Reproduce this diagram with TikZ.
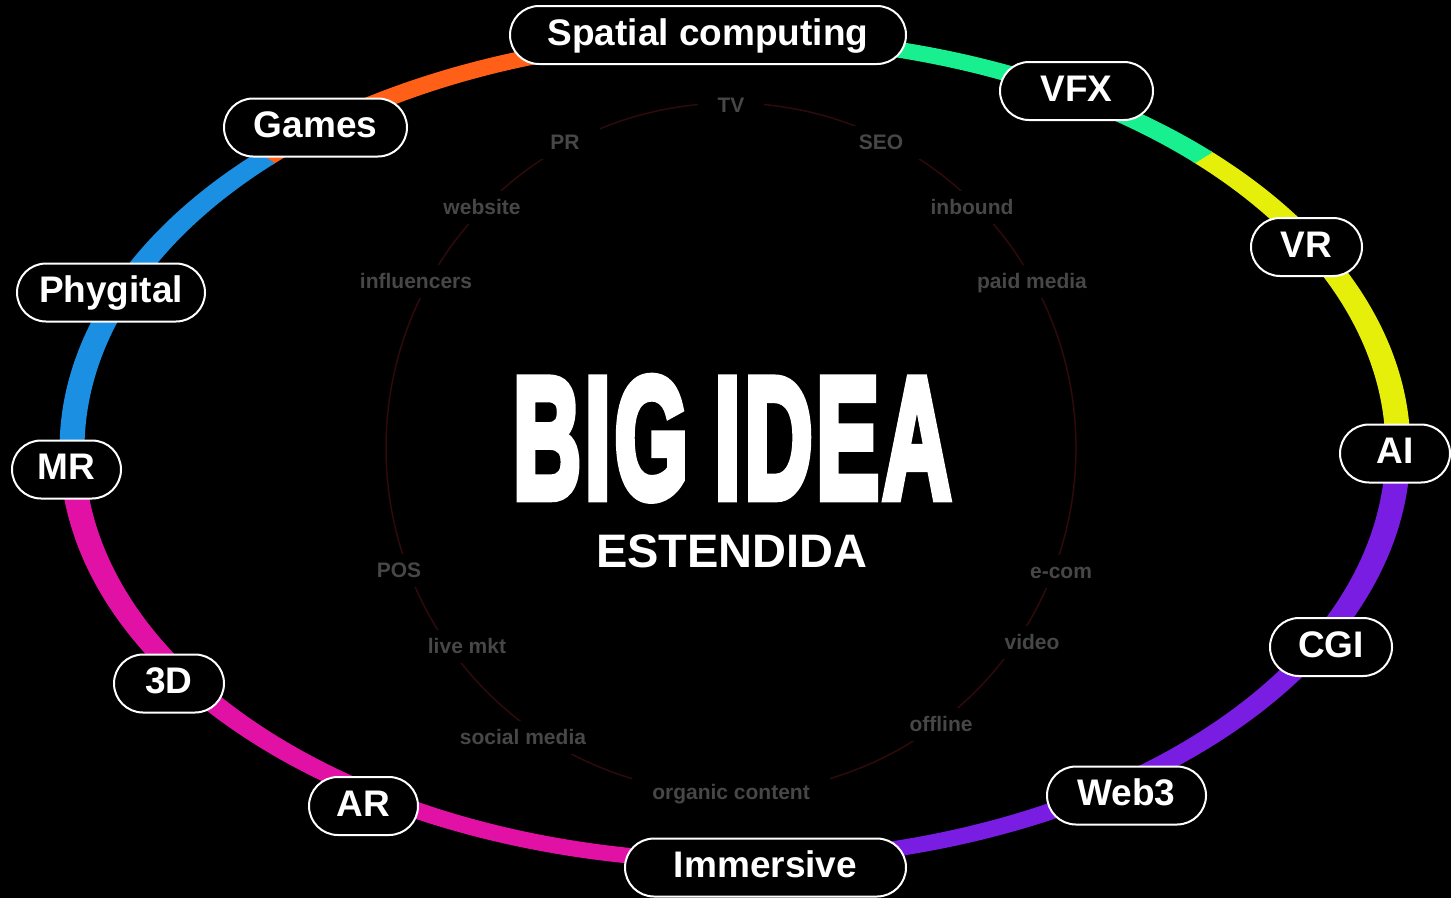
\documentclass[tikz,border=0pt]{standalone}
\usepackage{fontspec}
\setmainfont{Liberation Sans}
\newfontfamily\bigfont{Liberation Sans}[BoldFeatures={FakeBold=5.5}]
\usetikzlibrary{shapes.misc}
\definecolor{cyellow}{HTML}{E6EF0A}
\definecolor{cgreen}{HTML}{18EF8E}
\definecolor{corange}{HTML}{FF5F17}
\definecolor{cblue}{HTML}{1B8FE2}
\definecolor{cmagenta}{HTML}{E211A6}
\definecolor{cpurple}{HTML}{7A1DE3}
\definecolor{cinner}{HTML}{300A0A}
\definecolor{clabel}{HTML}{474747}
\newcommand\bk{\kern6.5pt}
\tikzset{
  seg/.style={line width=15.5pt, line cap=butt},
  pill/.style={rounded rectangle, draw=white, line width=2pt, fill=black, text=white,
    font=\bfseries\fontsize{37}{44}\selectfont, minimum height=58pt, inner xsep=0pt,
    text height=27pt, text depth=7pt},
  lbl/.style={fill=black, text=clabel, font=\bfseries\fontsize{21}{25}\selectfont,
    inner xsep=20pt, inner ysep=9pt, text height=15pt, text depth=0pt},
}
\begin{document}
\begin{tikzpicture}[x=1pt,y=-1pt]
\fill[black] (0,0) rectangle (1451,898);
\useasboundingbox (0,0) rectangle (1451,898);
% outer coloured ellipse: a circle of radius 412 stretched sideways (stroke too)
\begin{scope}[transform canvas={xscale=1.60922}]
\coordinate (oc) at (456.74,449);
\foreach \a/\b/\c in {0/45.3/cyellow, 45/90.3/cgreen, 90/135.3/corange, 135/180.3/cblue, 180/270.3/cmagenta, 270/360.3/cpurple}
  \draw[seg, \c] (oc) ++(-\a:412) arc[start angle=-\a, end angle=-\b, radius=412];
\end{scope}
% inner circle
\coordinate (ic) at (731,448);
\draw[cinner, line width=1.5pt] (ic) circle[radius=345];
% inner labels
\node[lbl] (tv) at (731,105) {TV};
\node[lbl] (pr) at (565,142) {PR};
\node[lbl] (seo) at (881,142) {SEO};
\node[lbl] (website) at (482,207) {website};
\node[lbl] (inbound) at (972,207) {inbound};
\node[lbl] (influencers) at (416,281) {influencers};
\node[lbl] (paid) at (1032,281) {paid media};
\node[lbl] (pos) at (399,570) {POS};
\node[lbl] (ecom) at (1061,571) {e-com};
\node[lbl] (live) at (467,646) {live mkt};
\node[lbl] (video) at (1032,642) {video};
\node[lbl] (social) at (523,737) {social media};
\node[lbl] (offline) at (941,724) {offline};
\node[lbl] (organic) at (731,792) {organic content};
% centre title
\node[text=white, inner sep=0pt, text height=122pt, text depth=0pt] (big) at (732,436.5)
  {\scalebox{0.55}[1]{\bigfont\bfseries\fontsize{172}{172}\selectfont B\bk I\bk G I\bk D\bk E\bk A}};
\node[text=white, inner sep=0pt, text height=33pt, text depth=0pt,
  font=\bfseries\fontsize{47}{52}\selectfont] (est) at (732,551) {ESTENDIDA};
% pills
\node[pill, minimum width=396pt] (sc) at (708,35) {Spatial computing};
\node[pill, minimum width=153pt] (vfx) at (1076.5,91) {VFX};
\node[pill, minimum width=111pt] (vr) at (1306.5,247) {VR};
\node[pill, minimum width=110pt] (ai) at (1395,453.5) {AI};
\node[pill, minimum width=122pt] (cgi) at (1331,647) {CGI};
\node[pill, minimum width=159pt] (web3) at (1126.5,795.5) {Web3};
\node[pill, minimum width=281pt] (imm) at (765.5,867.5) {Immersive};
\node[pill, minimum width=109pt] (ar) at (363.5,806) {AR};
\node[pill, minimum width=110pt] (d3) at (169,683.5) {3D};
\node[pill, minimum width=109pt] (mr) at (66.5,469.5) {MR};
\node[pill, minimum width=188pt] (phy) at (111,292.5) {Phygital};
\node[pill, minimum width=183pt] (games) at (315.5,127.5) {Games};
\end{tikzpicture}
\end{document}
